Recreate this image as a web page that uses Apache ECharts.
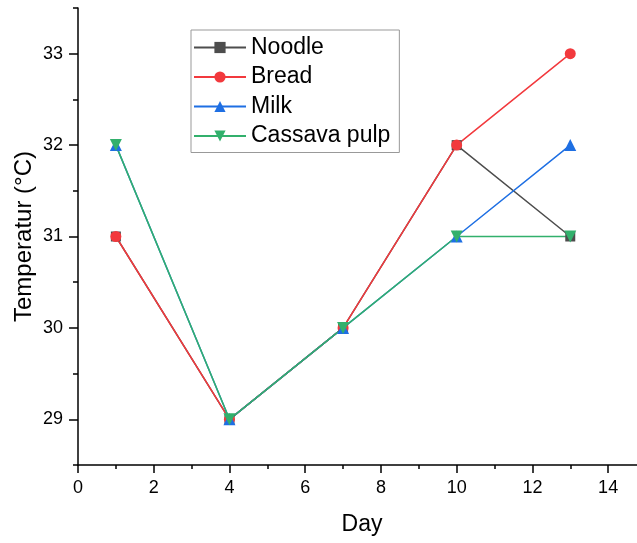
<!DOCTYPE html>
<html lang="en">
<head>
    <meta charset="utf-8">
    <title>Temperature by day</title>
    <script src="https://cdn.jsdelivr.net/npm/echarts@6/dist/echarts.min.js"></script>
</head>
<body style="margin:0;">
<div id="main" style="width: 637px; height: 543px;"></div>
<script type="text/javascript">
    // data
    const days = [1, 4, 7, 10, 13];
    const noodle = [31, 29, 30, 32, 31];
    const bread = [31, 29, 30, 32, 33];
    const milk = [32, 29, 30, 31, 32];
    const cassava = [32, 29, 30, 31, 31];

    const font = 'Liberation Sans, Arial, sans-serif';
    // pixel scale of the plot: x 0..15, y 28.5..33.5
    const gLeft = 78, gTop = 8, gRight = -9, gBottom = 78;
    const unitX = (637 - gLeft - gRight) / 15;
    const unitY = (543 - gTop - gBottom) / 5;

    function pts(arr) {
        return days.map(function (d, i) { return [d, arr[i]]; });
    }

    function line(name, arr, color, symbol, size, rotate) {
        return {
            name: name,
            type: 'line',
            data: pts(arr),
            symbol: symbol,
            symbolSize: size,
            symbolRotate: rotate || 0,
            lineStyle: { color: color, width: 1.5 },
            itemStyle: { color: color },
            emphasis: { disabled: true }
        };
    }

    let myChart = echarts.init(document.getElementById('main'));
    const option = {
        animation: false,
        grid: [
            { left: gLeft, top: gTop, right: gRight, bottom: gBottom, outerBoundsMode: 'none' },
            {
                left: gLeft, right: 637 - (gLeft + 14 * unitX),
                top: gTop + 0.5 * unitY, bottom: gBottom + 0.5 * unitY,
                outerBoundsMode: 'none'
            }
        ],
        legend: {
            orient: 'vertical',
            left: 191, top: 30,
            padding: [6, 9, 5, 2],
            itemWidth: 52, itemHeight: 14, itemGap: 6.5,
            borderColor: '#999', borderWidth: 1,
            textStyle: { fontFamily: font, fontSize: 23, color: '#000' },
            data: ['Noodle', 'Bread', 'Milk', 'Cassava pulp']
        },
        xAxis: [
            {
                gridIndex: 0, type: 'value', min: 0, max: 15, interval: 1,
                name: 'Day', nameLocation: 'middle', nameGap: 48,
                nameTextStyle: { fontFamily: font, fontSize: 23, color: '#000' },
                axisLine: { lineStyle: { color: '#000', width: 1.5 } },
                axisTick: { length: 4, lineStyle: { color: '#000', width: 1.5 } },
                axisLabel: { show: false },
                splitLine: { show: false }
            },
            {
                gridIndex: 1, type: 'value', min: 0, max: 14, interval: 2,
                offset: 0.5 * unitY,
                axisLine: { show: false },
                axisTick: { length: 8, lineStyle: { color: '#000', width: 1.5 } },
                axisLabel: { fontFamily: font, fontSize: 18, color: '#000', margin: 14 },
                splitLine: { show: false }
            }
        ],
        yAxis: [
            {
                gridIndex: 0, type: 'value', min: 28.5, max: 33.5, interval: 0.5,
                name: 'Temperatur (°C)', nameLocation: 'middle', nameGap: 42,
                nameTextStyle: { fontFamily: font, fontSize: 24, color: '#000' },
                axisLine: { lineStyle: { color: '#000', width: 1.5 } },
                axisTick: { length: 5, lineStyle: { color: '#000', width: 1.5 } },
                axisLabel: { show: false },
                splitLine: { show: false }
            },
            {
                gridIndex: 1, type: 'value', min: 29, max: 33, interval: 1,
                axisLine: { show: false },
                axisTick: { length: 9, lineStyle: { color: '#000', width: 1.5 } },
                axisLabel: { fontFamily: font, fontSize: 18, color: '#000', margin: 15 },
                splitLine: { show: false }
            }
        ],
        series: [
            line('Noodle', noodle, '#4d4d4d', 'rect', 10),
            line('Bread', bread, '#f2393d', 'circle', 11),
            line('Milk', milk, '#1e6fe3', 'triangle', 12),
            line('Cassava pulp', cassava, '#32b06c', 'triangle', 12, 180)
        ]
    };
    myChart.setOption(option);
</script>
</body>
</html>
